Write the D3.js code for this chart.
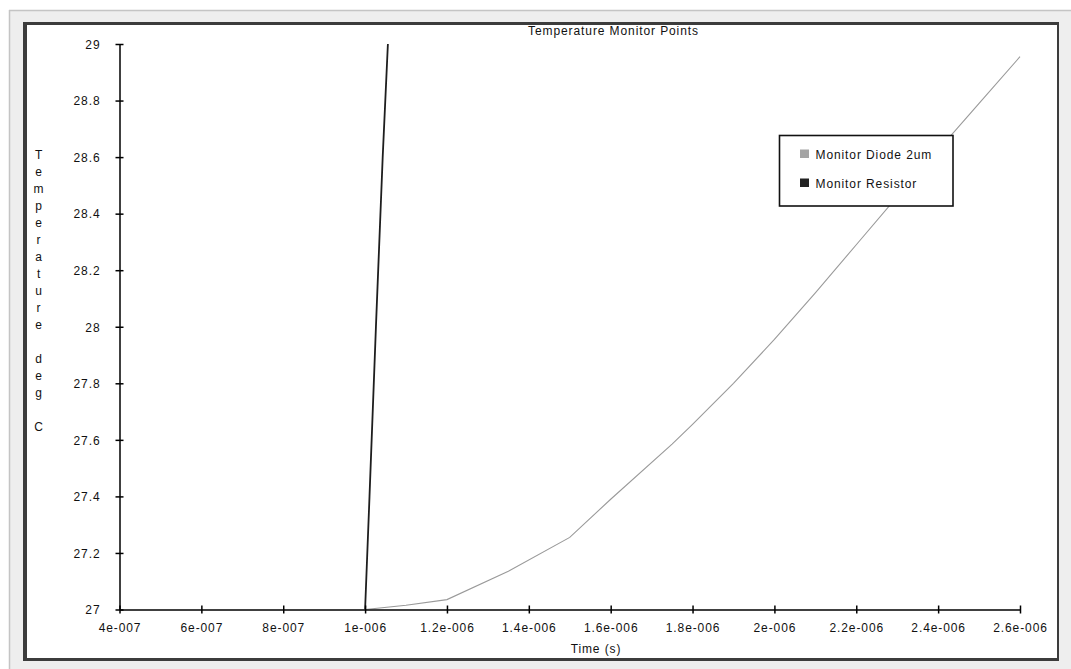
<!DOCTYPE html>
<html>
<head>
<meta charset="utf-8">
<script src="https://cdn.jsdelivr.net/npm/d3@7"></script>
<style>
  html, body { margin: 0; padding: 0; background: #ffffff; }
  svg { display: block; }
  text { font-family: "Liberation Sans", Arial, sans-serif; font-size: 12px; fill: #111; letter-spacing: 0.9px; }
</style>
</head>
<body>
<svg id="chart" width="1071" height="669"></svg>
<script>
// ---- data ----
const chartTitle = "Temperature Monitor Points";
const xAxisTitle = "Time  (s)";
const yAxisTitle = "Temperature deg C";
const seriesNames = ["Monitor Diode 2um", "Monitor Resistor"];

const xTickValues = [4e-7, 6e-7, 8e-7, 1e-6, 1.2e-6, 1.4e-6, 1.6e-6, 1.8e-6, 2e-6, 2.2e-6, 2.4e-6, 2.6e-6];
const xTickLabels = ["4e-007", "6e-007", "8e-007", "1e-006", "1.2e-006", "1.4e-006", "1.6e-006", "1.8e-006", "2e-006", "2.2e-006", "2.4e-006", "2.6e-006"];
const yTickValues = [27, 27.2, 27.4, 27.6, 27.8, 28, 28.2, 28.4, 28.6, 28.8, 29];
const yTickLabels = ["27", "27.2", "27.4", "27.6", "27.8", "28", "28.2", "28.4", "28.6", "28.8", "29"];

const diodeTime = [1.0e-6, 1.1e-6, 1.2e-6, 1.35e-6, 1.5e-6, 1.6e-6, 1.75e-6, 1.8e-6, 1.9e-6, 2.0e-6, 2.1e-6, 2.2e-6, 2.3e-6, 2.4e-6, 2.5e-6, 2.6e-6];
const diodeTemp = [27.0, 27.015, 27.035, 27.135, 27.255, 27.39, 27.585, 27.655, 27.80, 27.955, 28.12, 28.29, 28.46, 28.625, 28.79, 28.955];

const resistorTime = [1.0e-6, 1.0108e-6, 1.0265e-6, 1.0430e-6, 1.0557e-6];
const resistorTemp = [27.0, 27.4, 28.0, 28.6, 29.0];

// ---- layout ----
const svg = d3.select("#chart");
const W = 1071, H = 669;
const plot = { left: 119.5, right: 1020, top: 44, bottom: 609.5 };

// page background panel
svg.append("rect").attr("x", 0).attr("y", 0).attr("width", W).attr("height", H).attr("fill", "#ffffff");
svg.append("rect").attr("x", 9).attr("y", 10).attr("width", W - 9).attr("height", H - 10).attr("fill", "#eeeeee");
svg.append("line").attr("x1", 9).attr("x2", W).attr("y1", 10.5).attr("y2", 10.5).attr("stroke", "#c4c4c4").attr("stroke-width", 1.5);
svg.append("line").attr("x1", 9.5).attr("x2", 9.5).attr("y1", 10).attr("y2", H).attr("stroke", "#c4c4c4").attr("stroke-width", 1.5);

// chart frame
const fr = { l: 23, t: 22, r: 1059, b: 661 };
svg.append("rect").attr("x", fr.l).attr("y", fr.t).attr("width", fr.r - fr.l).attr("height", fr.b - fr.t).attr("fill", "#ffffff");
svg.append("rect").attr("x", fr.l).attr("y", fr.t).attr("width", fr.r - fr.l).attr("height", 3).attr("fill", "#3c3c3c");
svg.append("rect").attr("x", fr.l).attr("y", fr.t).attr("width", 4).attr("height", fr.b - fr.t).attr("fill", "#3c3c3c");
svg.append("rect").attr("x", fr.r - 2).attr("y", fr.t).attr("width", 2).attr("height", fr.b - fr.t).attr("fill", "#3c3c3c");
svg.append("rect").attr("x", fr.l).attr("y", fr.b - 3).attr("width", fr.r - fr.l).attr("height", 3).attr("fill", "#3c3c3c");

// scales
const x = d3.scaleLinear().domain([4e-7, 2.6e-6]).range([plot.left, plot.right]);
const y = d3.scaleLinear().domain([27, 29]).range([plot.bottom, plot.top]);

// title
svg.append("text").attr("x", 613.5).attr("y", 35).attr("text-anchor", "middle").text(chartTitle);

// clip
svg.append("clipPath").attr("id", "plotclip").append("rect")
  .attr("x", plot.left).attr("y", plot.top - 3).attr("width", plot.right - plot.left + 2).attr("height", plot.bottom - plot.top + 3);

// lines
const line = d3.line().x(d => x(d[0])).y(d => y(d[1]));
const diodeData = diodeTime.map((t, i) => [t, diodeTemp[i]]);
const resistorData = resistorTime.map((t, i) => [t, resistorTemp[i]]);

const g = svg.append("g").attr("clip-path", "url(#plotclip)");
g.append("path").datum(diodeData).attr("d", line)
  .attr("fill", "none").attr("stroke", "#9a9a9a").attr("stroke-width", 1.1);
g.append("path").datum(resistorData).attr("d", line)
  .attr("fill", "none").attr("stroke", "#1e1e1e").attr("stroke-width", 1.8);

// axes
const xAxis = d3.axisBottom(x).tickValues(xTickValues)
  .tickFormat((d, i) => xTickLabels[i]).tickSizeOuter(0).tickSizeInner(8).tickPadding(0);
const gx = svg.append("g").attr("transform", `translate(0,${plot.bottom})`).call(xAxis);
gx.select(".domain").attr("stroke", "#000").attr("stroke-width", 1.5);
gx.selectAll(".tick line").attr("y1", -4).attr("y2", 4).attr("stroke", "#000").attr("stroke-width", 1.5);
gx.selectAll(".tick text").attr("y", 22.5).attr("dy", null)
  .style("font-family", "'Liberation Sans', Arial, sans-serif").style("font-size", "12px").attr("fill", "#111");

const yAxis = d3.axisLeft(y).tickValues(yTickValues)
  .tickFormat((d, i) => yTickLabels[i]).tickSizeOuter(0).tickSizeInner(8).tickPadding(0);
const gy = svg.append("g").attr("transform", `translate(${plot.left},0)`).call(yAxis);
gy.select(".domain").attr("stroke", "#000").attr("stroke-width", 1.5);
gy.selectAll(".tick line").attr("x1", -4).attr("x2", 4).attr("stroke", "#000").attr("stroke-width", 1.5);
gy.selectAll(".tick text").attr("x", -19).attr("dy", "0.36em")
  .style("font-family", "'Liberation Sans', Arial, sans-serif").style("font-size", "12px").attr("fill", "#111");

// axis titles
svg.append("text").attr("x", 596).attr("y", 653).attr("text-anchor", "middle").text(xAxisTitle);
const yChars = Array.from(yAxisTitle);
svg.append("g").selectAll("text").data(yChars).join("text")
  .attr("x", 39).attr("y", (d, i) => 158.5 + i * 17).attr("text-anchor", "middle").text(d => d);

// legend
const lg = svg.append("g");
lg.append("rect").attr("x", 779.5).attr("y", 135.5).attr("width", 173.5).attr("height", 70.5)
  .attr("fill", "#ffffff").attr("stroke", "#111").attr("stroke-width", 1.6);
const legendColors = ["#a4a4a4", "#222222"];
seriesNames.forEach((name, i) => {
  const yy = 149.5 + i * 29;
  lg.append("rect").attr("x", 800).attr("y", yy).attr("width", 9).attr("height", 8.5).attr("fill", legendColors[i]);
  lg.append("text").attr("x", 815.5).attr("y", yy + 9.5).text(name);
});
</script>
</body>
</html>
